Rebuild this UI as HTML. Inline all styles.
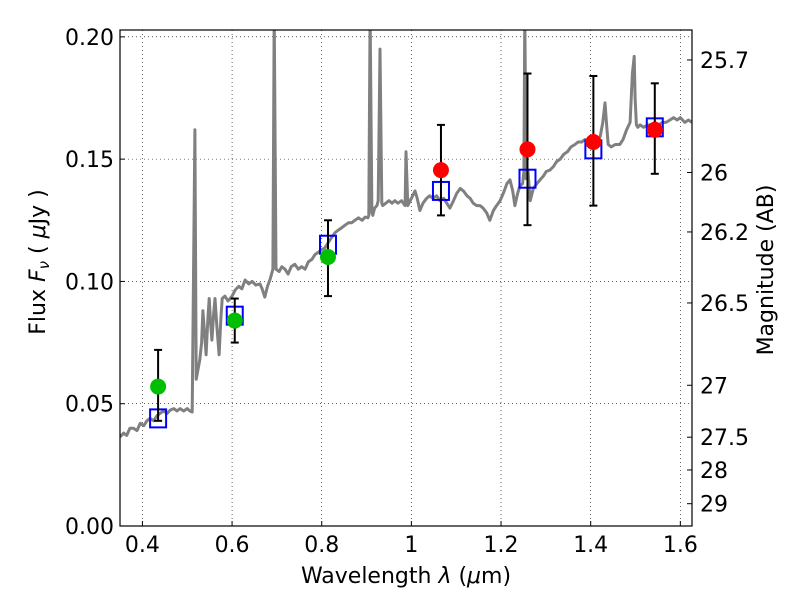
<!DOCTYPE html>
<html><head><meta charset="utf-8"><style>
body{margin:0;background:#fff;}
svg text{font-family:"DejaVu Sans","Liberation Sans",sans-serif;fill:#000;}
</style></head><body>
<svg id="chart" width="800" height="600" xmlns="http://www.w3.org/2000/svg"></svg>
<script>
const specLam=[0.35,0.358,0.365,0.372,0.38,0.388,0.395,0.403,0.41,0.417,0.425,0.432,0.439,0.447,0.455,0.462,0.47,0.477,0.484,0.492,0.5,0.506,0.511,0.517,0.520,0.524,0.528,0.532,0.535,0.539,0.542,0.546,0.549,0.552,0.555,0.559,0.562,0.566,0.571,0.575,0.578,0.584,0.591,0.6,0.607,0.615,0.622,0.629,0.637,0.645,0.653,0.662,0.667,0.673,0.679,0.685,0.691,0.694,0.698,0.705,0.711,0.718,0.725,0.732,0.74,0.748,0.755,0.763,0.77,0.778,0.785,0.793,0.8,0.807,0.815,0.822,0.83,0.837,0.845,0.852,0.86,0.867,0.874,0.882,0.89,0.897,0.903,0.905,0.908,0.912,0.914,0.918,0.923,0.926,0.93,0.934,0.936,0.943,0.95,0.957,0.963,0.97,0.978,0.986,0.988,0.992,1.0,1.008,1.013,1.019,1.026,1.034,1.041,1.048,1.056,1.064,1.072,1.079,1.086,1.094,1.101,1.109,1.116,1.124,1.131,1.138,1.146,1.153,1.16,1.168,1.175,1.183,1.19,1.198,1.205,1.213,1.22,1.226,1.231,1.237,1.242,1.248,1.251,1.253,1.256,1.26,1.265,1.272,1.28,1.287,1.294,1.301,1.309,1.317,1.324,1.332,1.34,1.348,1.356,1.365,1.372,1.38,1.387,1.392,1.398,1.405,1.412,1.421,1.427,1.432,1.436,1.439,1.446,1.455,1.465,1.472,1.48,1.488,1.493,1.497,1.499,1.502,1.505,1.51,1.518,1.527,1.535,1.543,1.552,1.56,1.568,1.577,1.585,1.593,1.6,1.61,1.618,1.626];
const specFlux=[0.0364,0.038,0.037,0.040,0.040,0.039,0.042,0.041,0.043,0.044,0.043,0.045,0.046,0.047,0.046,0.0474,0.048,0.047,0.048,0.047,0.048,0.047,0.0466,0.162,0.060,0.064,0.068,0.075,0.088,0.078,0.070,0.085,0.093,0.083,0.076,0.087,0.093,0.082,0.070,0.085,0.093,0.094,0.092,0.094,0.0965,0.098,0.097,0.1006,0.099,0.1,0.0985,0.099,0.097,0.0936,0.098,0.101,0.105,0.21,0.105,0.104,0.106,0.105,0.103,0.106,0.107,0.105,0.106,0.105,0.108,0.109,0.111,0.112,0.113,0.1137,0.116,0.118,0.120,0.121,0.122,0.123,0.124,0.124,0.125,0.126,0.125,0.1263,0.126,0.127,0.21,0.128,0.127,0.13,0.131,0.133,0.195,0.132,0.131,0.132,0.133,0.132,0.133,0.132,0.133,0.131,0.153,0.131,0.134,0.137,0.134,0.129,0.132,0.134,0.135,0.134,0.135,0.133,0.134,0.132,0.130,0.133,0.136,0.138,0.137,0.135,0.134,0.132,0.131,0.131,0.13,0.128,0.125,0.129,0.131,0.133,0.136,0.14,0.1415,0.137,0.131,0.136,0.139,0.14,0.145,0.21,0.142,0.1455,0.133,0.138,0.14,0.1415,0.143,0.145,0.1455,0.147,0.149,0.150,0.152,0.153,0.155,0.156,0.157,0.157,0.158,0.157,0.155,0.157,0.158,0.159,0.165,0.173,0.163,0.156,0.155,0.156,0.156,0.158,0.162,0.165,0.185,0.192,0.175,0.164,0.163,0.164,0.163,0.164,0.164,0.165,0.164,0.165,0.165,0.166,0.167,0.166,0.167,0.165,0.166,0.165];
const greenLam=[0.435,0.606,0.814];
const greenFlux=[0.057,0.084,0.110];
const greenLo=[0.043,0.075,0.094];
const greenHi=[0.072,0.093,0.125];
const redLam=[1.066,1.259,1.406,1.543];
const redFlux=[0.1455,0.154,0.157,0.162];
const redLo=[0.127,0.123,0.131,0.144];
const redHi=[0.164,0.185,0.184,0.181];
const boxLam=[0.435,0.606,0.814,1.066,1.259,1.406,1.543];
const boxFlux=[0.044,0.086,0.115,0.137,0.142,0.154,0.163];
const xTicks=[0.4,0.6,0.8,1.0,1.2,1.4,1.6];
const xTickLabels=["0.4","0.6","0.8","1","1.2","1.4","1.6"];
const yTicks=[0,0.05,0.10,0.15,0.20];
const yTickLabels=["0.00","0.05","0.10","0.15","0.20"];
const magTicks=[25.7,26,26.2,26.5,27,27.5,28,29];
const magTickLabels=["25.7","26","26.2","26.5","27","27.5","28","29"];

const L=120,R=692,T=30,B=526,xmin=0.35,xmax=1.626,ymin=0,ymax=0.2028;
const X=v=>L+(v-xmin)/(xmax-xmin)*(R-L);
const Y=v=>B-(v-ymin)/(ymax-ymin)*(B-T);
const svg=document.getElementById('chart');
const NS="http://www.w3.org/2000/svg";
function mk(tag,attrs,parent){const e=document.createElementNS(NS,tag);for(const k in attrs)e.setAttribute(k,attrs[k]);(parent||svg).appendChild(e);return e;}

const defs=mk('defs',{});const cp=mk('clipPath',{id:'pc'},defs);mk('rect',{x:L,y:T,width:R-L,height:B-T},cp);

xTicks.forEach((v,i)=>{
  const g=mk('line',{x1:X(v),x2:X(v),y1:T,y2:B,stroke:'#000','stroke-width':0.6,'stroke-dasharray':'1,3'});
  
  
  const t=mk('line',{x1:X(v),x2:X(v),y1:B,y2:B-5,stroke:'#000'});
  
  
  const lb=mk('text',{x:X(v),y:B+26,'text-anchor':'middle','font-size':22});lb.textContent=xTickLabels[i];
  
  
});
yTicks.forEach((v,i)=>{
  const g=mk('line',{x1:L,x2:R,y1:Y(v),y2:Y(v),stroke:'#000','stroke-width':0.6,'stroke-dasharray':'1,3'});
  
  
  const t=mk('line',{x1:L,x2:L+5,y1:Y(v),y2:Y(v),stroke:'#000'});
  
  
  const lb=mk('text',{x:L-6,y:Y(v)+8,'text-anchor':'end','font-size':22});lb.textContent=yTickLabels[i];
  
  
});
magTicks.forEach((m,i)=>{
  const f=Math.pow(10,(23.9-m)/2.5);const y=Y(f);
  const t=mk('line',{x1:R,x2:R-5,y1:y,y2:y,stroke:'#000'});
  
  
  const lb=mk('text',{x:R+8,y:y+8,'font-size':22});lb.textContent=magTickLabels[i];
  
  
});

const pts=specLam.map((l,i)=>X(l).toFixed(1)+','+Y(specFlux[i]).toFixed(1)).join(' ');
const sp=mk('polyline',{points:pts,fill:'none',stroke:'#808080','stroke-width':3,'clip-path':'url(#pc)','stroke-linejoin':'round'});



boxLam.forEach((l,i)=>{
  const b=mk('rect',{x:X(l)-8,y:Y(boxFlux[i])-9,width:16,height:18,fill:'none',stroke:'#0000ff','stroke-width':2});
  
  
});
function pt(lam,fl,lo,hi,col,name){
  lam.forEach((l,i)=>{
    const x=X(l);
    const g=mk('g',{});
    
    
    mk('line',{x1:x,x2:x,y1:Y(lo[i]),y2:Y(hi[i]),stroke:'#000','stroke-width':2},g);
    mk('line',{x1:x-4,x2:x+4,y1:Y(lo[i]),y2:Y(lo[i]),stroke:'#000','stroke-width':2},g);
    mk('line',{x1:x-4,x2:x+4,y1:Y(hi[i]),y2:Y(hi[i]),stroke:'#000','stroke-width':2},g);
    const c=mk('circle',{cx:x,cy:Y(fl[i]),r:8,fill:col});
    
    
  });
}
pt(greenLam,greenFlux,greenLo,greenHi,'#00bf00','optical');
pt(redLam,redFlux,redLo,redHi,'#ff0000','nir');

const fr=mk('rect',{x:L,y:T,width:R-L,height:B-T,fill:'none',stroke:'#000','stroke-width':1.2});



const xt=mk('text',{x:406,y:583,'text-anchor':'middle','font-size':22});
xt.innerHTML='Wavelength  <tspan font-style="italic">λ</tspan> (<tspan font-style="italic">μ</tspan>m)';


const yt=mk('text',{x:0,y:0,'text-anchor':'middle','font-size':22,transform:'translate(45,262) rotate(-90)'});
yt.innerHTML='Flux  <tspan font-style="italic">F</tspan><tspan font-style="italic" font-size="15" dy="4">ν</tspan><tspan dy="-4">  (  </tspan><tspan font-style="italic">μ</tspan>Jy )';


const rt=mk('text',{x:0,y:0,'text-anchor':'middle','font-size':22,transform:'translate(773,270) rotate(-90)'});
rt.textContent='Magnitude (AB)';


</script>
</body></html>
